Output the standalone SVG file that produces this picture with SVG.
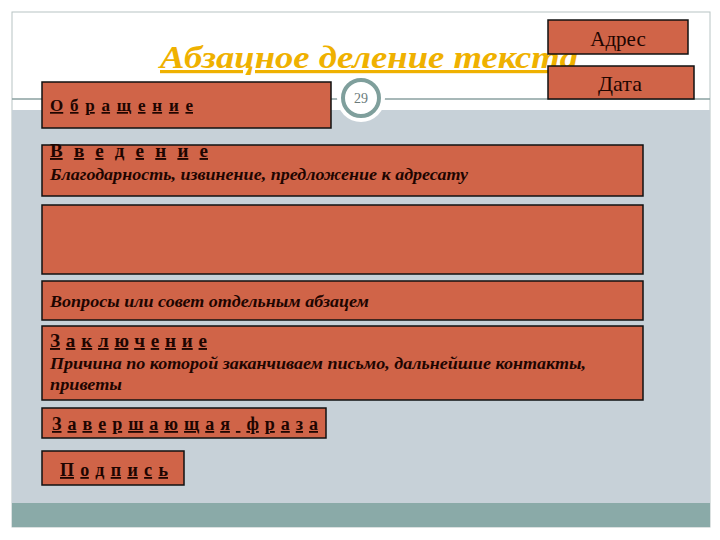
<svg xmlns="http://www.w3.org/2000/svg" width="720" height="540" viewBox="0 0 720 540">
<style>
.box{fill:#d06448;stroke:#111;stroke-width:1.5}
.hd{font-family:"Liberation Serif",serif;font-weight:bold;fill:#1e0500;text-decoration:underline}
.it{font-family:"Liberation Serif",serif;font-weight:bold;font-style:italic;fill:#1e0500;font-size:17px}
.pl{font-family:"Liberation Serif",serif;fill:#1e0500;text-anchor:middle}
</style>
<rect x="0" y="0" width="720" height="540" fill="#ffffff"/>
<g id="slide">
<rect x="12" y="12" width="698" height="515" fill="#ffffff" stroke="#b8c4c4" stroke-width="1"/>
<rect x="12" y="110" width="698" height="393" fill="#c7d1d8"/>
<rect x="12" y="503" width="698" height="24" fill="#8aaaa8"/>
<line x1="12" y1="99" x2="710" y2="99" stroke="#8aa0a0" stroke-width="1.5"/>
<circle cx="361" cy="98" r="24" fill="#ffffff"/>
<circle cx="361" cy="98" r="18" fill="#ffffff" stroke="#7f9f9c" stroke-width="4"/>
<text x="361" y="103" font-family="Liberation Serif,serif" font-size="14" fill="#6a7a7a" text-anchor="middle">29</text>
</g>
<g id="title">
<text x="160" y="68" font-family="Liberation Serif,serif" font-size="32" font-weight="bold" font-style="italic" fill="#efb100" text-decoration="underline" textLength="418" lengthAdjust="spacingAndGlyphs">Абзацное деление текста</text>
</g>
<g id="adres">
<rect class="box" x="548" y="20" width="140" height="34"/>
<text class="pl" x="618" y="46" font-size="21">Адрес</text>
</g>
<g id="data">
<rect class="box" x="548" y="66" width="146" height="33"/>
<text class="pl" x="620" y="91" font-size="22">Дата</text>
</g>
<g id="obrashchenie">
<rect class="box" x="42" y="82" width="289" height="46"/>
<text class="hd" x="50" y="111" font-size="17" textLength="143" lengthAdjust="spacing">Обращение</text>
</g>
<g id="vvedenie">
<rect class="box" x="42" y="145" width="601" height="51"/>
<text class="hd" x="50" y="157" font-size="19" textLength="158" lengthAdjust="spacing">Введение</text>
<text class="it" x="50" y="180" textLength="418" lengthAdjust="spacingAndGlyphs">Благодарность, извинение, предложение к адресату</text>
</g>
<g id="empty">
<rect class="box" x="42" y="205" width="601" height="69"/>
</g>
<g id="voprosy">
<rect class="box" x="42" y="281" width="601" height="39"/>
<text class="it" x="50" y="307" textLength="319" lengthAdjust="spacingAndGlyphs">Вопросы или совет отдельным абзацем</text>
</g>
<g id="zaklyuchenie">
<rect class="box" x="42" y="326" width="601" height="74"/>
<text class="hd" x="50" y="347" font-size="19" textLength="157" lengthAdjust="spacing">Заключение</text>
<text class="it" x="50" y="369" textLength="536" lengthAdjust="spacingAndGlyphs">Причина по которой заканчиваем письмо, дальнейшие контакты,</text>
<text class="it" x="50" y="390" textLength="72" lengthAdjust="spacingAndGlyphs">приветы</text>
</g>
<g id="zavershayushchaya">
<rect class="box" x="42" y="408" width="284" height="30"/>
<text class="hd" x="52" y="430" font-size="18" textLength="266" lengthAdjust="spacing">Завершающая фраза</text>
</g>
<g id="podpis">
<rect class="box" x="42" y="451" width="142" height="34"/>
<text class="hd" x="60" y="476" font-size="18" textLength="108" lengthAdjust="spacing">Подпись</text>
</g>
<g id="connectors"/>
</svg>
